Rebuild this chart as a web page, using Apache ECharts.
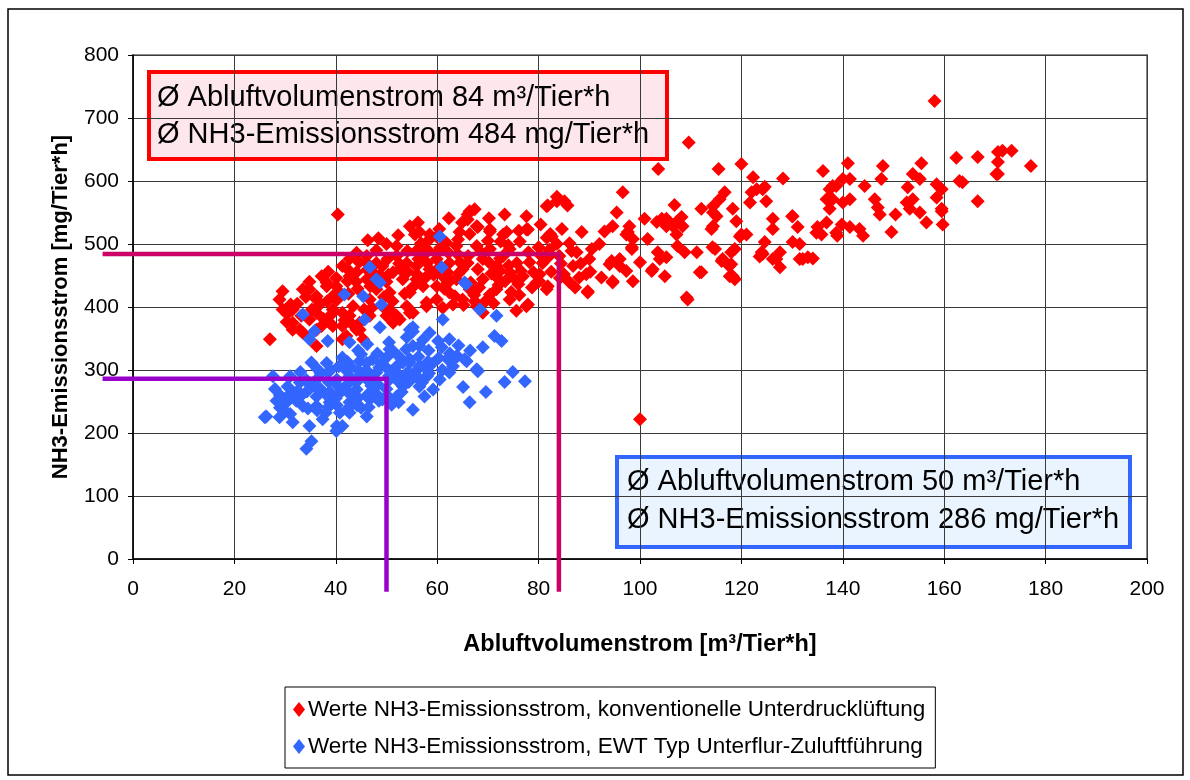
<!DOCTYPE html>
<html>
<head>
<meta charset="utf-8">
<script src="https://cdn.jsdelivr.net/npm/echarts@6/dist/echarts.min.js"></script>
<style>
  html, body { margin: 0; padding: 0; background: #fff; }
  #chart { width: 1190px; height: 780px; }
</style>
</head>
<body>
<div id="chart"></div>
<script>
// Messwerte: konventionelle Unterdrucklüftung [Abluftvolumenstrom, NH3-Emissionsstrom]
const redPoints = [
  [158.1,727],[100,222],[109.6,661],[103.6,619],[115.5,619],[120,627],[96.6,582],
  [85.1,568],[85.7,561],[95.4,550],[94.6,528],[88.5,519],[97.9,528],[97.3,515],[98.6,508],[100.9,540],
  [101.5,508],[98.4,495],[100,471],[104.3,540],[105.2,528],[106.8,562],[108.2,543],[106.5,528],[107.2,515],
  [107.4,497],[108.8,487],[111.2,487],[103.5,487],[103.9,476],[104.9,449],[102.3,457],[98.6,441],[94.6,439],
  [89.7,423],[96,465],[94.4,473],[97.3,457],[112.1,455],[109.4,412],[112.1,556],[114.4,560],[115.7,571],
  [116.7,582],[115.1,544],[114.1,524],[118.3,556],[119,536],[120,515],[114.3,495],[116.3,476],[117.6,465],
  [118.3,449],[118,487],[121,515],[121.7,566],[122.3,606],[123,587],
  [128.2,604],[136.1,616],[141,628],[147.9,624],[155.5,628],[162.4,637],[166.6,638],[170.6,646],[170.6,630],
  [170.6,611],[124.6,591],[124.9,568],[126.2,540],[126.2,524],[130,544],[131.1,527],[124.6,503],[124.2,484],
  [126.9,476],[127.6,463],[131.5,500],[131.5,476],[133.1,479],[134.1,477],[135,527],[135.8,515],[137.4,587],
  [136.8,571],[137.4,556],[138.7,592],[140,603],[141.4,603],[141.4,571],[140,566],[138,571],[138.7,518],
  [139.8,531],[141.4,527],[143.3,524],[144,513],[138.9,513],[144.3,592],[146.3,571],[146.9,558],[147.3,547],
  [147.6,603],[150.4,547],[149.6,519],[152.8,590],[152.6,566],[153.8,571],[153.8,611],[155.2,603],[153.2,556],
  [155.2,550],[156.5,534],[158.5,595],[159.5,587],[158.5,574],[159.5,556],[159.7,531],[163,600],[166.6,568],
  [170.3,611],[171.5,648],[173.3,648],[177.1,624],[163.6,598],[159.5,552],
  [83.6,575],[81.8,561],[82.6,512],
  [97.6,519],[98.4,492],[90.5,492],[90,476],[87.5,487],[86.8,465],[89.4,452],[89.7,425],[94,468],[94.6,441],
  [96,476],[102.5,460],[105.2,479],[103.3,535],[105.2,540],[107.2,535],[108.4,528],[111.8,455],[109.2,415],
  [114.4,550],[114.4,528],[114.8,492],[116.1,473],[118,468],[117.7,449],[118.7,444],[118.7,492],[119.7,512],
  [122,582],[124.2,587],[124,487],[127.6,487],[126.2,476],[130.1,544],[130.1,503],[132.1,476],[134.8,518],
  [136.8,534],[138,592],[123.6,480],
  [40.4,547],[46.3,506],[50,500],[54.6,528],[55.6,515],[58.5,515],[66.4,552],[67.8,528],[73.3,547],[77.6,544],
  [81.6,560],[64.9,534],[66,547],[29.5,425],[28.9,412],[27,349],[33.5,428],[34.8,440],[37.2,449],[38.2,433],
  [41.3,465],[42.7,476],[44.1,455],[46.1,481],[40.8,423],[43.4,401],[39.4,417],[36.2,417],[31.5,396],[30.3,376],
  [31.5,364],[33.5,359],[34.8,380],[36.2,391],[36.2,338],[38.8,375],[41.3,391],[42.1,354],[44.7,375],[46.7,386],
  [49.2,401],[50.6,423],[50,386],[52,386],[54,401],[54.6,423],[53.2,444],[51.3,455],[49.2,465],[52,481],
  [54,470],[55.9,465],[57.2,481],[58.5,460],[59.9,476],[61.1,449],[62.4,470],[63.8,444],[65,460],[59.9,433],
  [57.2,433],[55.9,444],[62.4,423],[59.9,412],[57.9,401],[67.8,497],[69,476],[70.4,492],[71.7,465],[73,481],
  [74.3,455],[75.7,470],[76.9,449],[77.6,401],[74.3,412],[71.7,428],[69,444],[66.4,428],[67.8,401],[69,391],
  [79.6,439],[80.8,470],[81.6,428],[77.6,523],[73.7,519],[70.4,523],[61.8,502],[59.9,512],[63.8,497],[46.1,470],
  [42.7,449],[40.1,433],[36.2,364],[39.4,396],[46.7,412],[48,428],[46.1,444],[47.3,455],[41.3,370],[44.1,364],
  [45.4,349],[51.3,375],[41.3,349],
  [29.5,396],[31.5,375],[32.9,364],[36.2,412],[37.2,370],[39.4,370],[34.8,428],[38.2,439],[42.7,386],[44.7,364],
  [50.6,396],[52.6,380],[55.2,391],
  [67.4,555],[66,539],[68,527],[77.9,523],[83.6,568],[56.5,519],[64.4,519],[70.4,520],[73,515],[74.3,492],
  [76.3,504],[81.6,510],[83.6,500],[80.2,452],[81.8,433],[77.9,404],[72.4,457],[75,447],[70.4,420],[67.4,409],
  [63.1,404],[61.1,399],[54.6,391],[57.9,407],
  [48,490],[52,497],[56,490],[60,487],[64,484],[58,470],[62,455],[66,470],[68,460],[72,445],[76,436],[65,412],
  [62,438],[53,458],[50,440],[48,470],[44,440],[56,452],[70,505],[74,498],[78,487],[80,495],[82,480],[79,455],
  [85,452],[86,440],[88,447],[92,500],[93,520],
  [32.4,405],[34.1,416],[36.6,402],[38.3,409],[40.2,411],[42.5,421],[44.3,429],[46.8,433],[48.2,437],[50.4,451],
  [52.7,461],[54.2,456],[56.3,476],[58.1,491],[60.6,494],[62.2,486],[64.5,471],[66.1,481],[68.6,487],[70.2,471],
  [72.4,477],[74.1,466],[76.5,457],[78.2,471],[80.3,483],[82.1,491],[84.4,469],[38.5,456],[40.1,446],[42.3,441],
  [44.6,471],[46.2,459],[48.7,451],[50.2,476],[52.5,469],[54.1,489],[56.8,501],[58.3,506],[60.2,461],[62.7,443],
  [64.2,453],[66.6,439],[68.3,431],[70.7,453],[72.1,435],[74.6,424],[76.2,419],[78.7,431],[80.1,441],[82.5,456],
  [84.2,446],[35.3,396],[37.6,381],[39.2,389],[41.7,379],[43.2,373],[45.6,396],[47.1,399],[49.5,416],[51.2,409],
  [53.6,421],[55.1,431],[57.6,446],[59.3,451],[61.4,429],[63.5,417],[65.2,403],[67.3,419],[69.5,409],[71.1,406],
  [73.4,441],[75.6,394],[33.2,386],[31.1,404],[30.4,389],[42.2,461],[44.1,486],[48.4,509],[52.3,514],[56.2,534],
  [60.4,524],[62.3,541],[64.1,507],[66.4,516],[70.2,541],[72.5,504],[76.1,521],[80.4,531],[82.3,516],[84.6,524],
  [86.1,501],[88.3,469],[90.2,456],[92.4,447],[87.2,431],[84.1,481],[86.5,489]
];

// Messwerte: EWT Typ Unterflur-Zuluftführung
const bluePoints = [
  [60.5,512],[60.9,463],[65.4,439],[46.7,463],[48,444],[48.7,439],[41.7,420],[45.4,417],[49,404],[45.7,380],
  [48.7,368],[33.5,388],[35.8,362],[34.8,349],[38.4,346],[42.7,344],[35.2,312],[38.4,296],[27.6,290],[26,225],
  [28.9,225],[34.2,175],[35.2,187],[51.3,330],[54,352],[55.2,368],[56.5,338],[58.5,359],[60.9,336],[61.1,380],
  [68.4,396],[71.7,386],[71.3,354],[72.7,346],[69,336],[63.8,322],[65.8,314],[68,298],[65.1,273],[66.4,249],
  [69.6,265],[73.3,281],[74.9,297],[77.3,282],[55.2,237],[57.5,258],
  [41.3,320],[44.7,314],[47.3,317],[50.6,333],[52,306],[54.6,317],[55.9,290],[26.3,226],[30.3,249],[31.5,265],
  [33.5,243],[31.5,217],[34.8,211],[37.4,222],[40.2,211],[40.8,232],[42.7,232],[46.1,226],[36.2,258],[38.8,265],
  [41.3,269],[44.1,269],[38.8,249],[42.7,249],[36.2,243],[32.9,280],[36.2,285],[40.2,285],[42.7,290],[45.4,293],
  [48,296],[50.6,285],[53.2,274],[52,258],[49.2,253],[46.7,253],[41.3,211],[40.1,203],[53.2,312],[55.2,338],
  [54.6,364],[64,322],[65.4,317],[63.1,306],[67.8,301],[62.4,296],[60.5,285],[57.9,301],[54.6,312],[53.9,290],
  [56.5,274],[59.2,269],[53.9,333],[65.7,436],[55.2,361],
  [39,300],[43,305],[46,300],[49,310],[51,298],[44,280],[47,275],[50,270],[53,265],[56,300],[58,290],[47,288],
  [43,260],[40,255],[37,270],[35,275],[33,258],[30,235],[29,240],[38,232],[45,240],[48,262],[51,245],[57,280],
  [59,310],[61,300],[62,318],[50,320],[45,325],[42,300],[37,295],[33,297],[31,290],[28,270],[29,260],[31,230],
  [36.4,301],[38.2,311],[40.6,306],[42.3,313],[44.5,299],[46.1,311],[48.6,304],[50.3,301],[52.4,293],[54.2,297],
  [56.6,306],[58.2,313],[60.3,319],[62.5,326],[38.6,281],[40.2,276],[42.5,279],[44.2,287],[46.4,283],[48.3,277],
  [50.5,291],[52.2,283],[54.4,281],[56.1,289],[58.4,295],[34.3,266],[36.5,269],[38.3,259],[40.5,261],[42.2,267],
  [44.4,256],[46.3,261],[48.5,251],[50.2,259],[52.4,249],[32.2,251],[34.5,239],[36.3,236],[38.5,241],[40.2,244],
  [42.4,239],[44.2,244],[46.5,241],[30.2,256],[32.5,267],[34.2,284],[30.5,274],[28.3,251],[44.4,331],[48.2,326],
  [52.5,321],[56.3,321],[46.2,341],[50.5,344],[58.3,331],[60.2,346],[62.4,349],[64.2,339],[66.5,331],[57.2,348]
];

// Mittelwerte beider Varianten
const meanRed = { flow: 84, nh3: 484 };
const meanBlue = { flow: 50, nh3: 286 };

const xTicks = { min: 0, max: 200, step: 20 };
const yTicks = { min: 0, max: 800, step: 100 };

const seriesNames = [
  'Werte NH3-Emissionsstrom, konventionelle Unterdrucklüftung',
  'Werte NH3-Emissionsstrom, EWT Typ Unterflur-Zuluftführung'
];

const FONT = '"Liberation Sans", Arial, sans-serif';

// Winkellinie zum Mittelwert: von links außerhalb der y-Achse bis unter die x-Achse
function guideSeries(name, mean, color) {
  return {
    name: name, type: 'custom', clip: false, silent: true, z: 6,
    encode: { x: [0, 2], y: [1, 3] },
    data: [[-6, mean.nh3, mean.flow, -52]],
    renderItem: function (params, api) {
      const a = api.coord([api.value(0), api.value(1)]);
      const b = api.coord([api.value(2), api.value(1)]);
      const c = api.coord([api.value(2), api.value(3)]);
      return {
        type: 'polyline',
        shape: { points: [a, b, c] },
        style: { fill: 'none', stroke: color, lineWidth: 4.5, lineJoin: 'miter' }
      };
    }
  };
}

const chart = echarts.init(document.getElementById('chart'), null, { renderer: 'canvas' });

chart.setOption({
  animation: false,
  backgroundColor: '#ffffff',
  textStyle: { fontFamily: FONT, color: '#000' },
  grid: {
    left: 133, top: 55, right: 43, bottom: 221,
    show: true, borderColor: '#8c8c8c', borderWidth: 2, backgroundColor: 'transparent'
  },
  xAxis: {
    type: 'value', min: xTicks.min, max: xTicks.max, interval: xTicks.step,
    name: 'Abluftvolumenstrom [m³/Tier*h]', nameLocation: 'middle', nameGap: 74,
    nameTextStyle: { fontFamily: FONT, fontSize: 23.5, fontWeight: 'bold', color: '#000' },
    axisLine: { show: true, onZero: false, lineStyle: { color: '#000', width: 1.5 } },
    axisTick: { show: true, length: 5, lineStyle: { color: '#000' } },
    axisLabel: { fontFamily: FONT, fontSize: 21, color: '#000', margin: 20 },
    splitLine: { show: true, lineStyle: { color: '#3a3a3a', width: 1 } }
  },
  yAxis: {
    type: 'value', min: yTicks.min, max: yTicks.max, interval: yTicks.step,
    name: 'NH3-Emissionsstrom [mg/Tier*h]', nameLocation: 'middle', nameGap: 61,
    nameTextStyle: { fontFamily: FONT, fontSize: 22, fontWeight: 'bold', color: '#000' },
    axisLine: { show: true, onZero: false, lineStyle: { color: '#000', width: 1.5 } },
    axisTick: { show: true, length: 5, lineStyle: { color: '#000' } },
    axisLabel: { fontFamily: FONT, fontSize: 21, color: '#000', margin: 14 },
    splitLine: { show: true, lineStyle: { color: '#3a3a3a', width: 1 } }
  },
  legend: {
    data: seriesNames,
    orient: 'vertical', left: 285, top: 687,
    backgroundColor: '#fff', borderColor: '#000', borderWidth: 1,
    padding: [11, 10, 10, 8], itemGap: 14, itemWidth: 12, itemHeight: 15,
    icon: 'diamond',
    textStyle: { fontFamily: FONT, fontSize: 22.5, color: '#000', padding: [0, 0, 0, -2] }
  },
  series: [
    {
      name: seriesNames[0], type: 'scatter', symbol: 'diamond', symbolSize: 14,
      itemStyle: { color: '#ff0000', opacity: 1 }, data: redPoints, z: 2
    },
    {
      name: seriesNames[1], type: 'scatter', symbol: 'diamond', symbolSize: 14,
      itemStyle: { color: '#3366ff', opacity: 1 }, data: bluePoints, z: 3
    },
    guideSeries('Mittel Unterdrucklüftung', meanRed, '#cc0066'),
    guideSeries('Mittel EWT', meanBlue, '#9900cc')
  ],
  graphic: [
    {
      type: 'rect', z: 1, silent: true,
      shape: { x: 8, y: 9, width: 1175, height: 766 },
      style: { fill: 'none', stroke: '#000', lineWidth: 1.5 }
    },
    {
      type: 'group', z: 100,
      children: [
        { type: 'rect', shape: { x: 149, y: 72, width: 518, height: 87 },
          style: { fill: '#fde6ec', stroke: '#ff0000', lineWidth: 4 } },
        { type: 'text', x: 157, y: 98,
          style: { text: 'Ø Abluftvolumenstrom ' + meanRed.flow + ' m³/Tier*h', font: '29px ' + FONT, fill: '#000', textVerticalAlign: 'middle' } },
        { type: 'text', x: 157, y: 135,
          style: { text: 'Ø NH3-Emissionsstrom ' + meanRed.nh3 + ' mg/Tier*h', font: '29px ' + FONT, fill: '#000', textVerticalAlign: 'middle' } }
      ]
    },
    {
      type: 'group', z: 100,
      children: [
        { type: 'rect', shape: { x: 617, y: 457, width: 513, height: 90 },
          style: { fill: '#e9f4ff', stroke: '#3366ff', lineWidth: 4 } },
        { type: 'text', x: 627, y: 482,
          style: { text: 'Ø Abluftvolumenstrom ' + meanBlue.flow + ' m³/Tier*h', font: '29px ' + FONT, fill: '#000', textVerticalAlign: 'middle' } },
        { type: 'text', x: 627, y: 520,
          style: { text: 'Ø NH3-Emissionsstrom ' + meanBlue.nh3 + ' mg/Tier*h', font: '29px ' + FONT, fill: '#000', textVerticalAlign: 'middle' } }
      ]
    }
  ]
});
</script>
</body>
</html>
